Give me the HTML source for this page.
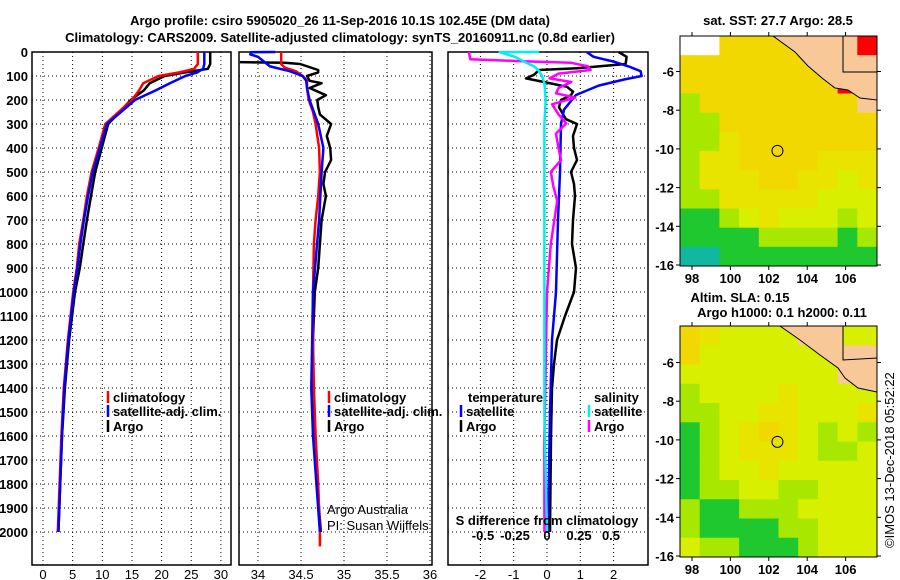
<!DOCTYPE html>
<html><head><meta charset="utf-8"><style>
html,body{margin:0;padding:0;background:#fff;}
svg{display:block;font-family:"Liberation Sans",Arial,sans-serif;}
.b{font-weight:bold;font-size:13px;}
.t{font-size:13px;}
</style></head><body>
<svg id="s" width="900" height="580" viewBox="0 0 900 580" xmlns="http://www.w3.org/2000/svg">
<text class="b" x="340" y="25" text-anchor="middle" font-size="14">Argo profile: csiro 5905020_26 11-Sep-2016 10.1S 102.45E (DM data)</text>
<text class="b" x="340" y="42" text-anchor="middle" font-size="14">Climatology: CARS2009. Satellite-adjusted climatology: synTS_20160911.nc (0.8d earlier)</text>
<text class="b" x="778" y="25" text-anchor="middle">sat. SST: 27.7 Argo: 28.5</text>
<text class="b" x="740" y="302" text-anchor="middle">Altim. SLA: 0.15</text>
<text class="b" x="782" y="317" text-anchor="middle">Argo h1000: 0.1 h2000: 0.11</text>
<text class="t" x="0" y="0" transform="translate(894,548) rotate(-90)" font-size="12">©IMOS 13-Dec-2018 05:52:22</text>
<g id="g"></g>
</svg>
<script>
// ---- depth axis ----
const depthTicks=[0,100,200,300,400,500,600,700,800,900,1000,1100,1200,1300,1400,1500,1600,1700,1800,1900,2000];
// ---- temperature panel ----
const tempTicks=[0,5,10,15,20,25,30];
const tempDepth=[0,50,70,85,100,130,160,200,300,400,500,600,700,800,900,1000,1200,1400,1600,1800,2000];
const tempClim=[26.1,26.1,25.5,23.0,19.5,16.9,16.2,15.0,10.5,9.4,8.2,7.4,6.8,6.1,5.7,5.1,4.2,3.5,3.1,2.8,2.5];
const tempSat=[27.2,27.2,27.0,26.0,24.0,21.4,19.0,15.5,10.8,9.6,8.4,7.6,6.9,6.3,5.8,5.2,4.3,3.6,3.2,2.9,2.6];
const tempArgo=[28.2,28.2,27.8,24.0,20.5,18.0,17.0,14.8,11.0,9.9,8.8,8.1,7.4,6.8,6.2,5.4,4.4,3.7,3.2,2.9,2.6];
// ---- salinity panel ----
const salTicks=[34,34.5,35,35.5,36];
const salTickLabels=["34","34.5","35","35.5","36"];
const salClimDepth=[0,50,65,80,100,120,150,200,250,300,400,500,600,700,800,1000,1200,1400,1600,1800,2000,2060];
const salClim=[34.27,34.27,34.31,34.44,34.52,34.57,34.57,34.59,34.64,34.67,34.71,34.72,34.70,34.67,34.65,34.64,34.64,34.65,34.67,34.70,34.72,34.72];
const salSatDepth=[0,1,10,20,40,60,80,100,120,150,200,300,400,500,700,1000,1200,1400,1600,2000];
const salSat=[34.20,33.92,33.91,34.0,34.07,34.14,34.37,34.52,34.56,34.57,34.60,34.70,34.76,34.74,34.71,34.64,34.63,34.62,34.64,34.72];
const salArgoDepth=[42,45,50,75,85,100,120,130,150,180,200,230,260,300,350,400,450,500,550,600,700,800,900,1000,1200,1400,1600,1800,2000];
const salArgo=[33.79,34.31,34.49,34.70,34.70,34.57,34.60,34.74,34.60,34.79,34.69,34.70,34.72,34.85,34.80,34.84,34.85,34.78,34.76,34.79,34.74,34.72,34.70,34.66,34.64,34.63,34.65,34.69,34.73];
// ---- difference panel ----
const dTTicks=[-2,-1,0,1,2];
const dSTicks=[-0.5,-0.25,0,0.25,0.5];
const dSTickLabels=["-0.5","-0.25","0","0.25","0.5"];
const dTArgoDepth=[0,20,50,60,68,75,95,110,125,145,165,180,200,230,280,300,350,400,450,500,550,600,700,800,900,1000,1100,1200,1300,1400,1600,2000];
const dTArgo=[2.15,2.39,2.36,1.55,0.90,-0.24,-0.39,-0.63,-0.09,0.60,0.78,0.72,0.42,0.36,0.57,0.90,0.78,0.81,0.90,0.72,0.81,0.84,0.78,0.75,0.87,0.81,0.54,0.30,0.21,0.15,0.12,0.09];
const dTSatDepth=[0,20,40,60,80,100,115,140,179,240,300,500,700,1000,1200,1500,2000];
const dTSat=[1.19,1.40,2.0,2.45,2.81,2.84,2.30,1.55,0.87,0.51,0.42,0.39,0.33,0.27,0.15,0.09,0.03];
const dSSatDepth=[0,1,20,40,60,80,100,130,200,300,600,1000,1500,2000];
const dSSat=[-0.06,-0.37,-0.25,-0.18,-0.10,-0.06,-0.04,-0.02,-0.01,-0.02,-0.02,-0.02,-0.02,0];
const dSArgoDepth=[0,30,38,45,60,75,90,110,125,150,172,190,218,260,297,340,400,450,500,560,620,800,1000,1300,1600,2000];
const dSArgo=[-0.61,-0.60,-0.22,0.19,0.32,0.34,0.09,0.02,0.19,0.09,0.07,0.22,0.04,0.09,0.15,0.07,0.09,0.11,0.03,0.05,0.08,0.03,0,-0.01,-0.02,-0.02];
// ---- maps ----
const lonTicks=[98,100,102,104,106];
const latTicks=[-6,-8,-10,-12,-14,-16];
const sstGrid=["wwYYYYYLLR","YYYYYYYLLL","YYYYYYYYRL","gYYYYYYYYL","ggYYYYYYYY","ggyYYYYYYY","gyyYYYYyyy","gyyyYYyyly","ggyyyyylll","GGglylllgl","GGGGggggGg","ccGGGGGGGG"];
const slaGrid=["YyllllLLll","YlllllllLL","llllllllLL","gllllyllll","ggllyyllly","GglyYylglg","Gglyyylggl","Ggllyllll l".replace(" ",""),"Gggllggll l".replace(" ",""),"gGGggglllll".slice(0,10),"gGGGGggllll".slice(0,10),"lggGGGglll"];

const NS="http://www.w3.org/2000/svg";
const G=document.getElementById('g');
function el(tag,attrs,parent){const e=document.createElementNS(NS,tag);for(const k in attrs)e.setAttribute(k,attrs[k]);(parent||G).appendChild(e);return e;}
function txt(x,y,s,cls,anchor,parent){const e=el('text',{x:x,y:y,class:cls||'b','text-anchor':anchor||'middle'},parent);e.textContent=s;return e;}
const yD=d=>52+0.24*d;
const PT={x0:32,x1:231}, PS={x0:239,x1:432}, PD={x0:448,x1:648};
const Y0=52,Y1=565;
const xT=t=>43+5.93*t;
const xS=s=>301+86*(s-34.5);
const xdT=v=>547+33.3*v;
const xdS=v=>547+128*v;

function panel(P,name,xticks,xfn,labels,xtitle){
  const g=el('g',{});
  
  
  for(const d of depthTicks){const l=el('line',{x1:P.x0,x2:P.x1,y1:yD(d),y2:yD(d),stroke:'#000','stroke-width':1,'stroke-dasharray':'1,3'},g);
    
    }
  xticks.forEach((v,i)=>{const x=xfn(v);
    const l=el('line',{x1:x,x2:x,y1:Y0,y2:Y1,stroke:'#000','stroke-width':1,'stroke-dasharray':'1,3'},g);
    
    
    const t=txt(x,Y1+14,labels?labels[i]:String(v),'t','middle',g);
    
    
  });
  const r=el('rect',{x:P.x0,y:Y0,width:P.x1-P.x0,height:Y1-Y0,fill:'none',stroke:'#000','stroke-width':1.5},g);
  
  
  const t=txt((P.x0+P.x1)/2,Y1+30,xtitle,'b','middle',g);
  
  
}
panel(PT,'temperature-panel',tempTicks,xT,null,'temperature (deg C)');
panel(PS,'salinity-panel',salTicks,xS,salTickLabels,'salinity');
panel(PD,'difference-panel',dTTicks,xdT,null,'T difference from climatology');
for(const d of depthTicks){const t=txt(28,yD(d)+5,String(d),'b','end');
  
  }

function line(ds,vs,xf,color,name,w){
  const pts=ds.map((d,i)=>xf(vs[i]).toFixed(1)+','+yD(d).toFixed(1)).join(' ');
  const p=el('polyline',{points:pts,fill:'none',stroke:color,'stroke-width':w||2.5,'stroke-linejoin':'round'});
  
  
}
line(tempDepth,tempArgo,xT,'#000','temp-argo-line');
line(tempDepth,tempClim,xT,'#f00','temp-climatology-line');
line(tempDepth,tempSat,xT,'#00f','temp-satellite-line');
line(salArgoDepth,salArgo,xS,'#000','sal-argo-line');
line(salClimDepth,salClim,xS,'#f00','sal-climatology-line');
line(salSatDepth,salSat,xS,'#00f','sal-satellite-line');
line(dTArgoDepth,dTArgo,xdT,'#000','dt-argo-line');
line(dTSatDepth,dTSat,xdT,'#00f','dt-satellite-line');
line(dSArgoDepth,dSArgo,xdS,'#f0f','ds-argo-line');
line(dSSatDepth,dSSat,xdS,'#0ee','ds-satellite-line');

function leg(x,y,color,label,name){
  const g=el('g',{});
  
  
  el('line',{x1:x,x2:x,y1:y-11,y2:y+1,stroke:color,'stroke-width':2.5},g);
  txt(x+5,y,label,'b','start',g);
}
leg(108,402,'#f00','climatology','legend-climatology');
leg(108,416,'#00f','satellite-adj. clim.','legend-satellite');
leg(108,431,'#000','Argo','legend-argo');
leg(329,402,'#f00','climatology','legend-sal-climatology');
leg(329,416,'#00f','satellite-adj. clim.','legend-sal-satellite');
leg(329,431,'#000','Argo','legend-sal-argo');
let tt=txt(468,402,'temperature','b','start');

leg(461,416,'#00f','satellite','legend-dt-satellite');
leg(461,431,'#000','Argo','legend-dt-argo');
tt=txt(594,402,'salinity','b','start');

leg(589,416,'#0ee','satellite','legend-ds-satellite');
leg(589,431,'#f0f','Argo','legend-ds-argo');
tt=txt(547,525,'S difference from climatology','b','middle');

dSTicks.forEach((v,i)=>{const t=txt(xdS(v),540,dSTickLabels[i],'b','middle');
  
  });
tt=txt(327,514,'Argo Australia','t','start');

tt=txt(327,530,'PI: Susan Wijffels','t','start');


const COL={w:'#fff',Y:'#f0d800',y:'#e8e400',l:'#d8f000',g:'#a8e800',G:'#20c830',c:'#10b8a0',L:'#f8c898',R:'#f00'};
function map(top,bottom,grid,name,land){
  const x0=680,x1=877;
  const g=el('g',{});
  
  
  const rows=grid.length,cols=10,cw=(x1-x0)/cols,ch=(bottom-top)/rows;
  grid.forEach((row,r)=>{for(let c=0;c<cols;c++){
    const k=row[c]||'l';
    const rc=el('rect',{x:x0+c*cw,y:top+r*ch,width:cw+0.5,height:ch+0.5,fill:COL[k]},g);
    
    }});
  const lp=el('polygon',{points:land,fill:'#f8c898',stroke:'#000','stroke-width':1},g);
  
  
  const latY=v=>bottom-1-(v+16)*19.35;
  const lonX=v=>692+(v-98)*19.2;
  const fr=el('rect',{x:x0,y:top,width:x1-x0,height:bottom-top,fill:'none',stroke:'#000','stroke-width':1},g);
  
  
  latTicks.forEach(v=>{const y=latY(v);el('line',{x1:x0-4,x2:x0,y1:y,y2:y,stroke:'#000'},g);el('line',{x1:x1,x2:x1+4,y1:y,y2:y,stroke:'#000'},g);
    const t=txt(x0-6,y+5,String(v),'b','end',g);
    
    });
  lonTicks.forEach(v=>{const x=lonX(v);el('line',{x1:x,x2:x,y1:bottom,y2:bottom+4,stroke:'#000'},g);el('line',{x1:x,x2:x,y1:top-4,y2:top,stroke:'#000'},g);
    const t=txt(x,bottom+17,String(v),'b','middle',g);
    
    });
  const c=el('circle',{cx:lonX(102.45),cy:latY(-10.1),r:5.5,fill:'none',stroke:'#000','stroke-width':1},g);
  
  
}
map(36,266,sstGrid,'sst-map',"773,36,843,36,843,72,877,72,877,100,860,98,848,90,835,88,822,78,808,66,795,52");
map(326,557,slaGrid,'sla-map',"780,326,843,326,843,360,877,358,877,392,858,388,845,378,838,368,820,355,800,340");
</script>
</body></html>
